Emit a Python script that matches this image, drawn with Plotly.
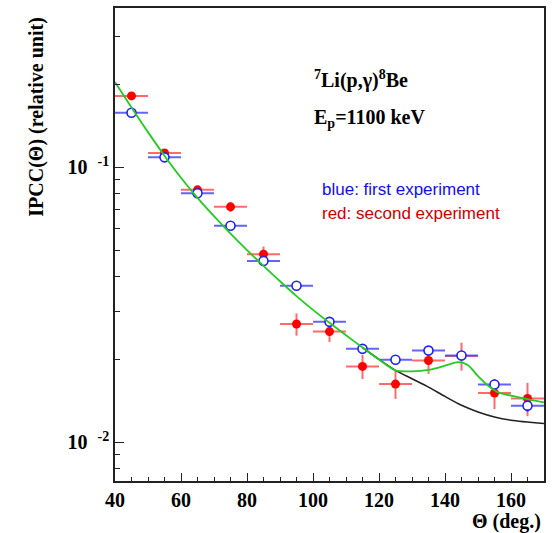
import plotly.graph_objects as go

# ---- data ----
theta = [45, 55, 65, 75, 85, 95, 105, 115, 125, 135, 145, 155, 165]
theta_err = [5] * 13

blue_val = [0.158, 0.1087, 0.0805, 0.0613, 0.0456, 0.0371, 0.0274, 0.02185,
            0.01994, 0.02154, 0.02066, 0.01622, 0.01358]
blue_err = [0.005, 0.0035, 0.0026, 0.002, 0.0015, 0.0012, 0.0009, 0.0007,
            0.0007, 0.0008, 0.0007, 0.0007, 0.0007]

red_val = [0.1819, 0.1127, 0.0828, 0.0718, 0.0483, 0.0269, 0.02525, 0.01886,
           0.01627, 0.01982, 0.0206, 0.01509, 0.01443]
red_err = [0.0045, 0.0028, 0.0021, 0.0030, 0.0032, 0.0025, 0.0021, 0.0019,
           0.0019, 0.0021, 0.0024, 0.0019, 0.0020]

green_x = [40, 45, 50, 55, 60, 65, 70, 75, 80, 85, 90, 95, 100, 105, 110, 115,
           120, 125, 130, 135, 140, 144, 147, 150, 153, 156, 162, 170]
green_y = [0.2042, 0.1652, 0.1343, 0.1102, 0.0916, 0.0774, 0.0664, 0.0574,
           0.0500, 0.0438, 0.0385, 0.0340, 0.0303, 0.0272, 0.0245, 0.0221,
           0.0200, 0.01824, 0.01811, 0.01832, 0.01897, 0.01954, 0.01905,
           0.01738, 0.01607, 0.01521, 0.01459, 0.01396]

black_x = [115, 120, 125, 130, 135, 140, 145, 150, 155, 160, 170]
black_y = [0.0221, 0.0200, 0.01824, 0.01701, 0.01586, 0.01467, 0.01362,
           0.01288, 0.01235, 0.01202, 0.01169]

y_major = [0.01, 0.1]
y_major_text = ["<b>10&nbsp;&nbsp;<sup>-2</sup></b>",
                "<b>10&nbsp;&nbsp;<sup>-1</sup></b>"]
y_minor = [0.008, 0.009, 0.02, 0.03, 0.04, 0.05, 0.06, 0.07, 0.08, 0.09, 0.2, 0.3]
x_major = [40, 60, 80, 100, 120, 140, 160]

SERIF = "Liberation Serif"
SANS = "Liberation Sans"

fig = go.Figure()

fig.add_trace(go.Scatter(
    x=theta, y=red_val, mode="markers",
    marker=dict(symbol="circle", size=9, color="#ff0000", line=dict(width=0)),
    error_x=dict(type="data", array=theta_err, color="rgba(255,70,70,0.8)",
                 thickness=2, width=0),
    error_y=dict(type="data", array=red_err, color="rgba(255,70,70,0.8)",
                 thickness=2, width=0),
    showlegend=False))

fig.add_trace(go.Scatter(
    x=theta, y=blue_val, mode="markers",
    marker=dict(symbol="circle", size=9, color="white",
                line=dict(width=1.6, color="#1f1fff")),
    error_x=dict(type="data", array=theta_err, color="rgba(60,60,255,0.8)",
                 thickness=2, width=0),
    error_y=dict(type="data", array=blue_err, color="rgba(60,60,255,0.8)",
                 thickness=2, width=0),
    showlegend=False))

fig.add_trace(go.Scatter(
    x=black_x, y=black_y, mode="lines",
    line=dict(color="#222222", width=1.6, shape="spline", smoothing=0.8),
    showlegend=False))

fig.add_trace(go.Scatter(
    x=green_x, y=green_y, mode="lines",
    line=dict(color="#22cc22", width=1.8, shape="spline", smoothing=0.8),
    showlegend=False))

tickfont = dict(family=SERIF, size=20, color="black")

fig.update_layout(
    width=552, height=533,
    margin=dict(l=115, r=7, t=6, b=52),
    paper_bgcolor="white", plot_bgcolor="white",
    xaxis=dict(
        range=[40, 170], showgrid=False, zeroline=False,
        showline=True, mirror=True, linecolor="#222", linewidth=1.6,
        ticks="inside", ticklen=8, tickwidth=1.3, tickcolor="#222",
        tickmode="array", tickvals=x_major,
        ticktext=["<b>%d</b>" % v for v in x_major],
        tickfont=tickfont,
        minor=dict(ticks="inside", ticklen=4, tickwidth=1.3, tickcolor="#222",
                   tickmode="linear", tick0=40, dtick=5),
    ),
    yaxis=dict(
        type="log", range=[-2.1413, -0.4203], showgrid=False, zeroline=False,
        showline=True, mirror=True, linecolor="#222", linewidth=1.6,
        ticks="inside", ticklen=9, tickwidth=1.3, tickcolor="#222",
        tickmode="array", tickvals=y_major, ticktext=y_major_text,
        tickfont=tickfont,
        minor=dict(ticks="inside", ticklen=5, tickwidth=1.3, tickcolor="#222",
                   tickmode="array", tickvals=y_minor),
    ),
)

def px_x(p):
    return (p - 115) / 430.0

def px_y(p):
    return (481 - p) / 475.0

annos = [
    dict(text="<b>IPCC(Θ) (relative unit)</b>", x=px_x(36), y=px_y(115),
         xanchor="center", yanchor="middle", textangle=-90,
         font=dict(family=SERIF, size=20, color="black")),
    dict(text="<b>Θ (deg.)</b>", x=px_x(544), y=px_y(522),
         xanchor="right", yanchor="middle",
         font=dict(family=SERIF, size=20, color="black")),
    dict(text="<b><sup>7</sup>Li(p,γ)<sup>8</sup>Be</b>", x=px_x(312), y=px_y(78),
         xanchor="left", yanchor="middle",
         font=dict(family=SERIF, size=20, color="black")),
    dict(text="<b>E<sub>p</sub>=1100 keV</b>", x=px_x(312), y=px_y(117),
         xanchor="left", yanchor="middle",
         font=dict(family=SERIF, size=20, color="black")),
    dict(text="blue: first experiment", x=px_x(320), y=px_y(188),
         xanchor="left", yanchor="middle",
         font=dict(family=SANS, size=17, color="#1010ee")),
    dict(text="red: second experiment", x=px_x(320), y=px_y(212),
         xanchor="left", yanchor="middle",
         font=dict(family=SANS, size=17, color="#cc0000")),
]
for a in annos:
    a.update(xref="paper", yref="paper", showarrow=False)
fig.update_layout(annotations=annos)

fig.write_html("out.html")
